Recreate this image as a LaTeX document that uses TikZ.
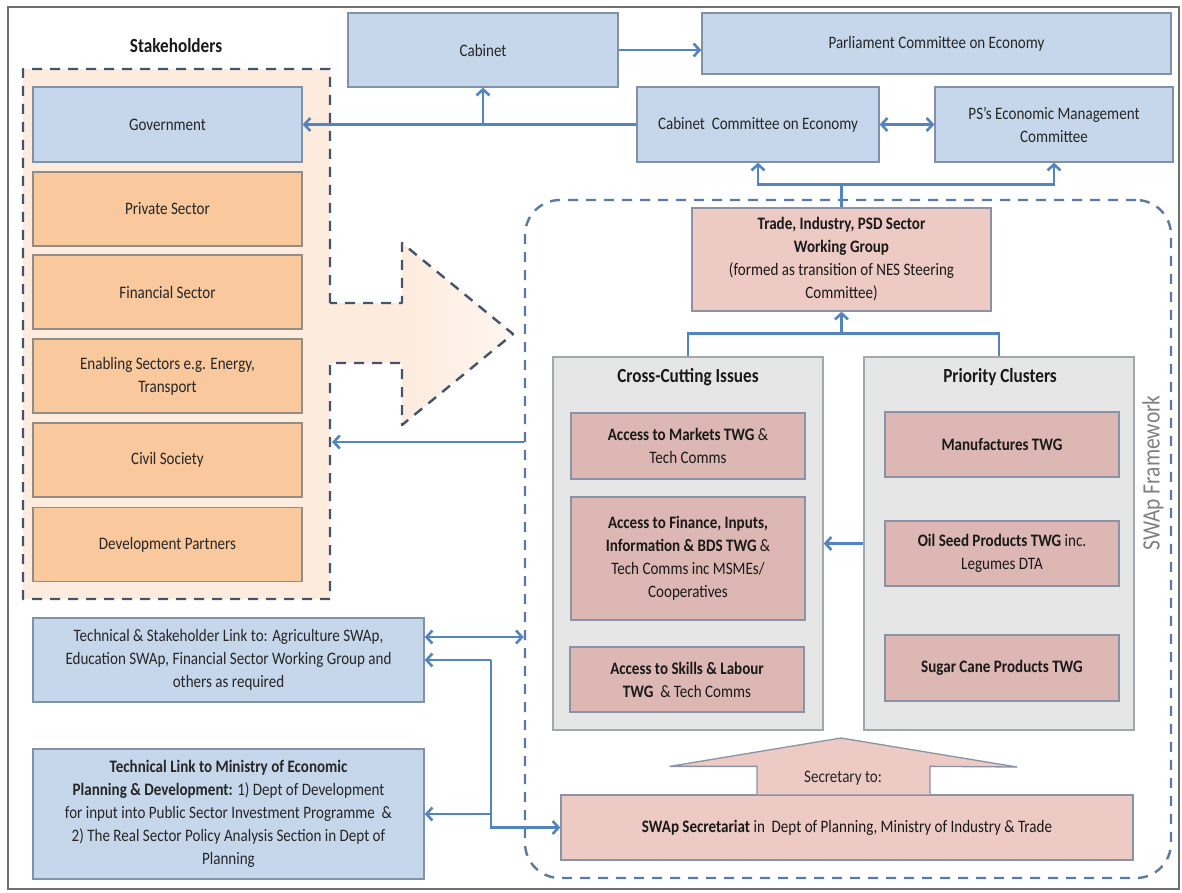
\documentclass[tikz,border=0pt]{standalone}
\usepackage{fontspec}
\setmainfont{Carlito}[FakeStretch=0.86]
\usepackage{tikz}
\usetikzlibrary{arrows.meta, positioning, shapes, calc}
\definecolor{boxblue}{HTML}{C6D7EC}
\definecolor{blueline}{HTML}{8191A8}
\definecolor{boxorange}{HTML}{F9C89C}
\definecolor{orangeline}{HTML}{948C86}
\definecolor{peach}{HTML}{FDEBDD}
\definecolor{stakedash}{HTML}{44546A}
\definecolor{swapdash}{HTML}{5A7AA6}
\definecolor{twgpink}{HTML}{DDB7B3}
\definecolor{tradepink}{HTML}{EDCAC4}
\definecolor{pinkline}{HTML}{8A93A6}
\definecolor{panelgray}{HTML}{E6E6E6}
\definecolor{panelline}{HTML}{A3A8B0}
\definecolor{arrowblue}{HTML}{5284C2}
\definecolor{framegray}{HTML}{707070}
\newcommand{\boxfont}{\fontsize{17.5}{23}\selectfont}
\newcommand{\headfont}{\fontsize{20}{23}\selectfont\bfseries}
\tikzstyle{blue_box} = [rectangle, fill=boxblue, draw=blueline, line width=1.3pt, align=center, font=\boxfont, text=black!85]
\tikzstyle{orange_box} = [rectangle, fill=boxorange, draw=orangeline, line width=1.3pt, align=center, font=\boxfont, text=black!85, minimum width=269, minimum height=74]
\tikzstyle{twg_box} = [rectangle, fill=twgpink, draw=pinkline, line width=1.3pt, align=center, font=\boxfont, text=black!90, minimum width=234]
\tikzstyle{trade_box} = [rectangle, fill=tradepink, draw=pinkline, line width=1.3pt, align=center, font=\boxfont, text=black!90]
\tikzstyle{panel} = [rectangle, fill=panelgray, draw=panelline, line width=1.3pt, minimum width=270, minimum height=373]
\tikzstyle{heading} = [font=\headfont, text=black!90]
\tikzstyle{arrow} = [-{Straight Barb[length=6pt,width=13pt]}, draw=arrowblue, line width=2.6pt]
\tikzstyle{arrowboth} = [{Straight Barb[length=6pt,width=13pt]}-{Straight Barb[length=6pt,width=13pt]}, draw=arrowblue, line width=2.6pt]
\tikzstyle{link} = [draw=arrowblue, line width=2.6pt]

\begin{document}
\begin{tikzpicture}[x=1pt, y=-1pt]
    \useasboundingbox (0,0) rectangle (1182,893);
    \draw[framegray, line width=1.8pt] (8,7) rectangle (1179,889);

    % The stakeholders box with its big arrow
    \coordinate (stake_nw) at (23,69);
    \coordinate (stake_se) at (330,599);
    \coordinate (shaft_top) at (330,303);
    \coordinate (shaft_bot) at (330,363);
    \coordinate (head_top) at (402,243);
    \coordinate (head_bot) at (402,425);
    \coordinate (head_tip) at (513,334);
    \fill[peach] (shaft_top) -- (stake_se |- stake_nw) -- (stake_nw) -- (stake_nw |- stake_se)
        -- (stake_se) -- (shaft_bot) -- (head_bot |- shaft_bot) -- (head_bot) -- (head_tip)
        -- (head_top) -- (head_top |- shaft_top) -- cycle;
    \shade[left color=peach, right color=peach!45!white] (head_top) -- (head_tip) -- (head_bot) -- cycle;
    \draw[stakedash, line width=2.4pt, dash pattern=on 10pt off 8pt, line join=round]
        (shaft_top) -- (stake_se |- stake_nw) -- (stake_nw) -- (stake_nw |- stake_se)
        -- (stake_se) -- (shaft_bot) -- (head_bot |- shaft_bot) -- (head_bot) -- (head_tip)
        -- (head_top) -- (head_top |- shaft_top) -- cycle;
    \node[heading] (stake_title) at (176,46) {Stakeholders};

    % The SWAp framework
    \node[draw=swapdash, line width=2.4pt, dash pattern=on 10pt off 8pt, rounded corners=35,
        minimum width=646, minimum height=678] (swap) at (848,539) {};
    \node[rotate=90, font=\fontsize{25}{26}\selectfont, text=black!50] (swap_label) at (1153,473) {SWAp Framework};

    % The boxes
    \node[blue_box, minimum width=269, minimum height=75] (government) at (167.5,124.5) {Government};
    \node[orange_box] (private) at (167.5,209) {Private Sector};
    \node[orange_box] (financial) at (167.5,292) {Financial Sector};
    \node[orange_box] (enabling) at (167.5,376) {Enabling Sectors e.g. Energy,\\Transport};
    \node[orange_box] (civil) at (167.5,460) {Civil Society};
    \node[orange_box] (partners) at (167.5,544.5) {Development Partners};

    \node[blue_box, minimum width=270, minimum height=74] (cabinet) at (483,50) {Cabinet};
    \node[blue_box, minimum width=469, minimum height=61] (parliament) at (936.5,43.5) {Parliament Committee on Economy};
    \node[blue_box, minimum width=242, minimum height=75] (cabinet_committee) at (758,124.5) {Cabinet\ \ Committee on Economy};
    \node[blue_box, minimum width=238, minimum height=75] (ps_committee) at (1054,124.5) {PS’s Economic Management\\Committee};

    \node[trade_box, minimum width=299, minimum height=103] (trade) at (841.5,259.5)
        {\textbf{Trade, Industry, PSD Sector}\\\textbf{Working Group}\\(formed as transition of NES Steering\\Committee)};

    \node[panel] (cross) at (688,543.5) {};
    \node[panel] (priority) at (999,543.5) {};
    \node[heading] (cross_title) at (688,377) {Cross-Cutting Issues};
    \node[heading] (priority_title) at (1000,377) {Priority Clusters};

    \node[twg_box, minimum height=66] (markets) at (688,446) {\textbf{Access to Markets TWG} \&\\Tech Comms};
    \node[twg_box, minimum height=123] (finance) at (688,558.5)
        {\textbf{Access to Finance, Inputs,}\\\textbf{Information \& BDS TWG} \&\\Tech Comms inc MSMEs/\\Cooperatives};
    \node[twg_box, minimum height=65] (skills) at (687,679.5) {\textbf{Access to Skills \& Labour}\\\textbf{TWG}\ \ \& Tech Comms};
    \node[twg_box, minimum height=65] (manufactures) at (1002,444.5) {\textbf{Manufactures TWG}};
    \node[twg_box, minimum height=65] (oil_seed) at (1002,553.5) {\textbf{Oil Seed Products TWG} inc.\\Legumes DTA};
    \node[twg_box, minimum height=66] (sugar_cane) at (1002,668) {\textbf{Sugar Cane Products TWG}};

    \node[trade_box, minimum width=572, minimum height=65] (secretariat) at (847,827.5)
        {\textbf{SWAp Secretariat} in\ \ Dept of Planning, Ministry of Industry \& Trade};
    \draw[fill=tradepink, draw=pinkline, line width=1.3pt, line join=round]
        ($(secretariat.north)+(-90,0)$) -- ++(0,-28) -- ++(-87,0) -- (841,738) -- (1017,767)
        -- ($(secretariat.north)+(83,-28)$) -- ($(secretariat.north)+(83,0)$);
    \node[font=\boxfont, text=black!85] (secretary_to) at (843,778) {Secretary to:};

    \node[blue_box, minimum width=391, minimum height=84] (tech_link) at (228.5,660)
        {Technical \& Stakeholder Link to: Agriculture SWAp,\\Education SWAp, Financial Sector Working Group and\\others as required};
    \node[blue_box, minimum width=391, minimum height=130] (mepd_link) at (228.5,814)
        {\textbf{Technical Link to Ministry of Economic}\\\textbf{Planning \& Development:} 1) Dept of Development\\for input into Public Sector Investment Programme\ \ \&\\2) The Real Sector Policy Analysis Section in Dept of\\Planning};

    % The connections
    \draw[arrow] (cabinet.east) -- (cabinet.east -| parliament.west);
    \draw[arrowboth] (cabinet_committee.east) -- (ps_committee.west);
    \draw[arrow] (cabinet_committee.west) -- (government.east);
    \draw[arrow] (cabinet.south |- government.east) -- (cabinet.south);

    \coordinate (trade_up) at ($(trade.north)+(0,-23)$);
    \draw[link] (trade.north) -- (trade_up);
    \draw[arrow] (trade_up) -| (cabinet_committee.south);
    \draw[arrow] (trade_up) -| (ps_committee.south);

    \coordinate (panels_up) at ($(trade.south)+(0,22)$);
    \draw[arrow] (panels_up) -- (trade.south);
    \draw[link] (cross.north) |- (panels_up) -| (priority.north);

    \draw[arrow] (priority.west) -- (cross.east);

    \coordinate (stake_east) at (332,442);
    \draw[arrow] (swap.west |- stake_east) -- (stake_east);

    \draw[arrowboth] ([yshift=23pt]tech_link.east) -- ([yshift=23pt]tech_link.east -| swap.west);
    \coordinate (junction) at (491,660);
    \draw[arrow] (junction) -- (tech_link.east);
    \draw[arrow] (junction) |- (secretariat.west);
    \draw[arrow] (junction |- mepd_link.east) -- (mepd_link.east);
\end{tikzpicture}
\end{document}
